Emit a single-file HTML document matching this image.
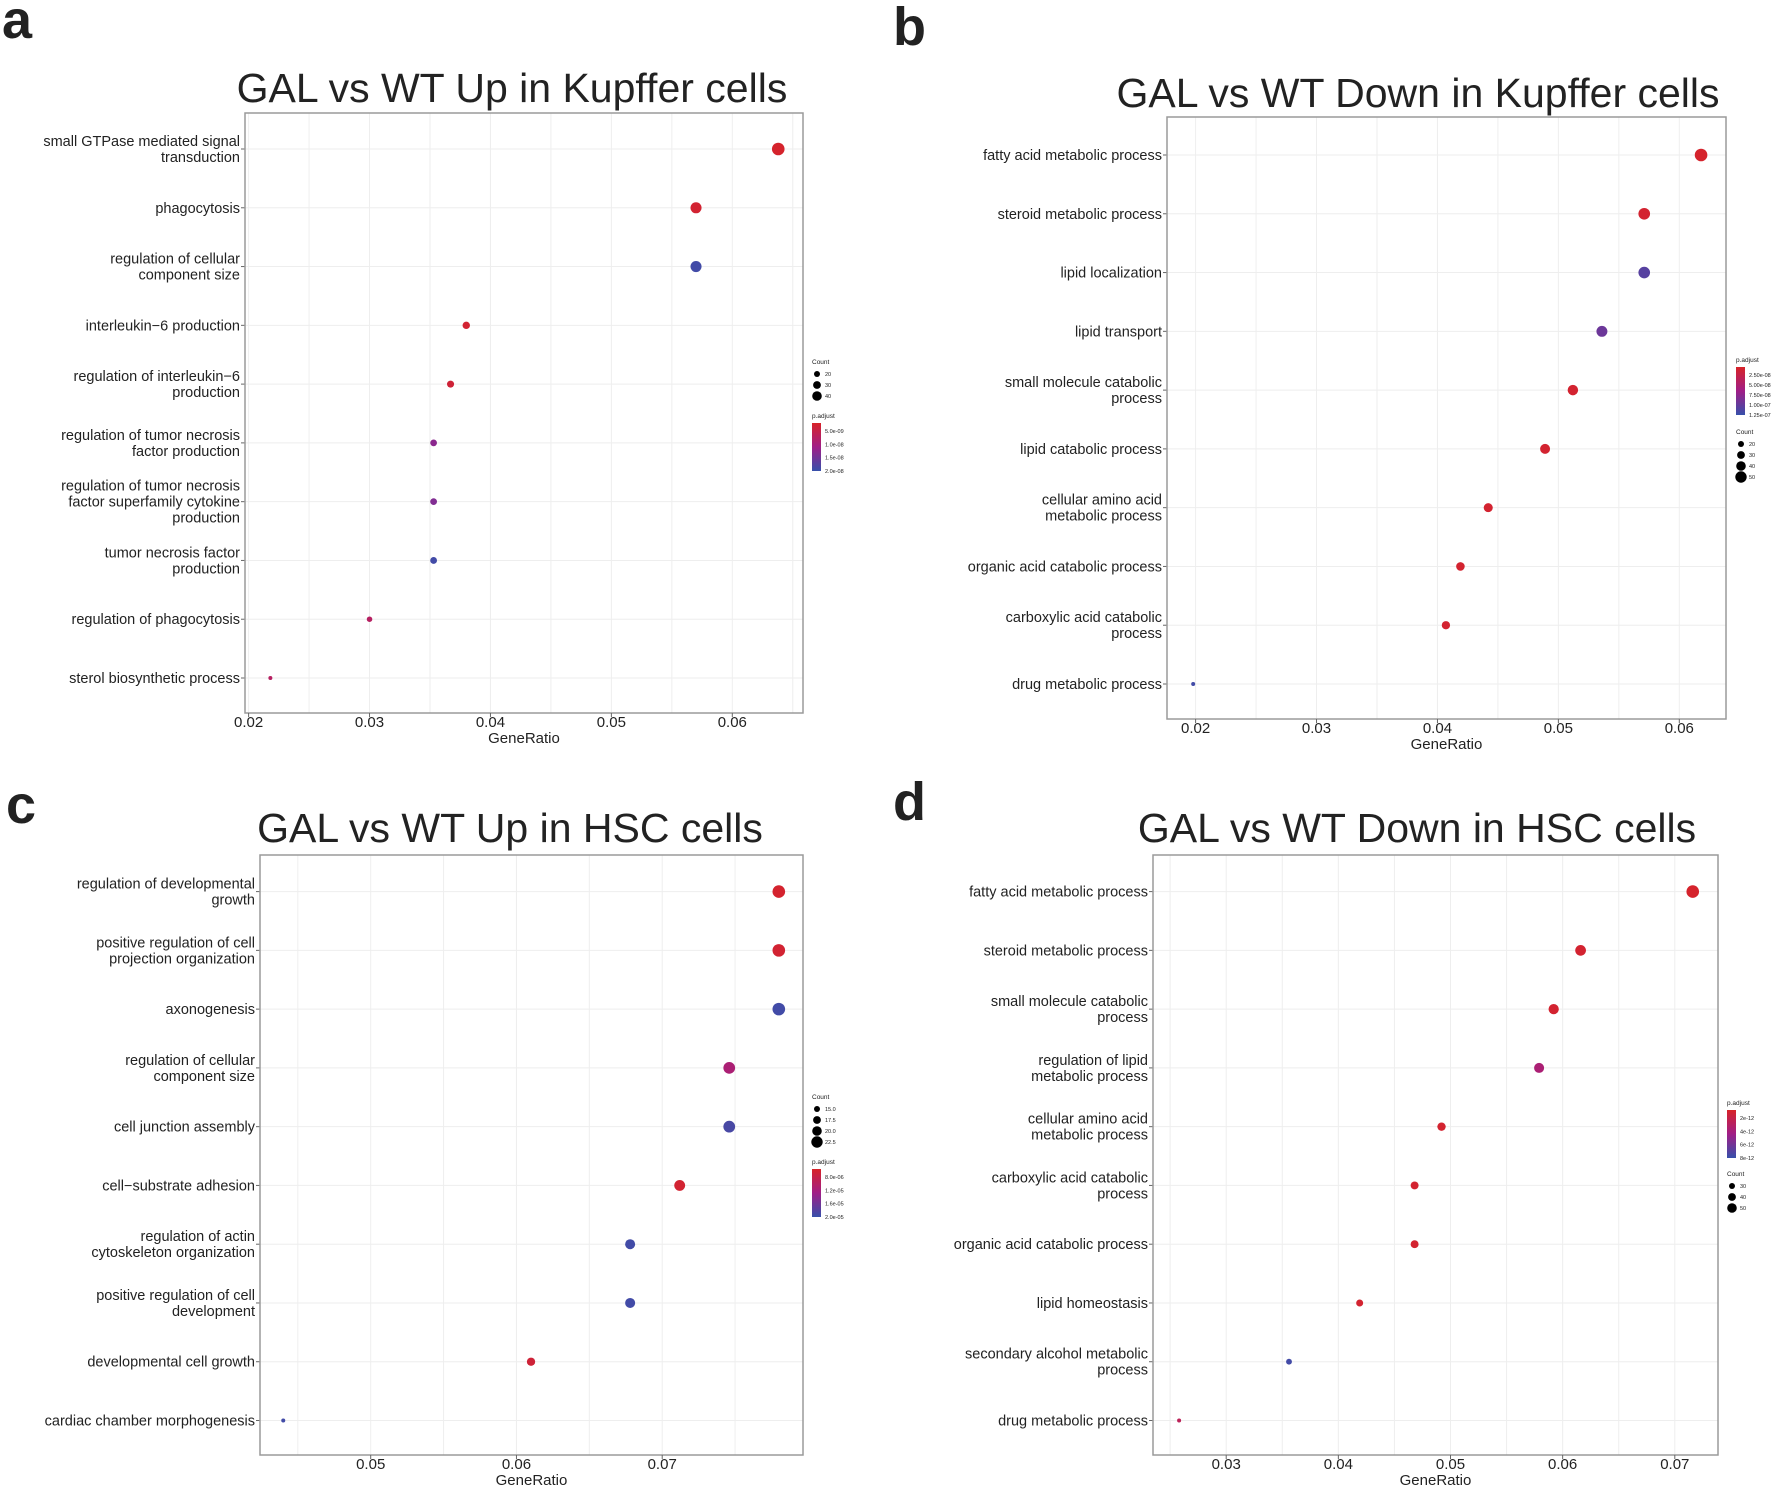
<!DOCTYPE html>
<html><head><meta charset="utf-8"><style>
html,body{margin:0;padding:0;background:#fff}
svg{display:block;font-family:"Liberation Sans",Arial,sans-serif}
</style></head><body>
<svg id="fig" width="1772" height="1487" viewBox="0 0 1772 1487" xmlns="http://www.w3.org/2000/svg"></svg>
<script>
// Panel a data
const aCategories=["small GTPase mediated signal\ntransduction","phagocytosis","regulation of cellular\ncomponent size","interleukin\u22126 production","regulation of interleukin\u22126\nproduction","regulation of tumor necrosis\nfactor production","regulation of tumor necrosis\nfactor superfamily cytokine\nproduction","tumor necrosis factor\nproduction","regulation of phagocytosis","sterol biosynthetic process"];
const aRatio=[0.0638,0.057,0.057,0.038,0.0367,0.0353,0.0353,0.0353,0.030,0.0218];
const aCount=[42,37,37,25,24,23,23,23,19,14];
const aPadj=[0.02,0.05,0.95,0.05,0.08,0.6,0.65,0.95,0.3,0.3];
const aTicks=[0.02,0.03,0.04,0.05,0.06];
// Panel b data
const bCategories=["fatty acid metabolic process","steroid metabolic process","lipid localization","lipid transport","small molecule catabolic\nprocess","lipid catabolic process","cellular amino acid\nmetabolic process","organic acid catabolic process","carboxylic acid catabolic\nprocess","drug metabolic process"];
const bRatio=[0.0618,0.0571,0.0571,0.0536,0.0512,0.0489,0.0442,0.0419,0.0407,0.0198];
const bCount=[53,49,49,46,44,42,38,36,35,17];
const bPadj=[0.02,0.04,0.85,0.75,0.04,0.04,0.04,0.04,0.04,0.95];
const bTicks=[0.02,0.03,0.04,0.05,0.06];
// Panel c data
const cCategories=["regulation of developmental\ngrowth","positive regulation of cell\nprojection organization","axonogenesis","regulation of cellular\ncomponent size","cell junction assembly","cell\u2212substrate adhesion","regulation of actin\ncytoskeleton organization","positive regulation of cell\ndevelopment","developmental cell growth","cardiac chamber morphogenesis"];
const cRatio=[0.078,0.078,0.078,0.0746,0.0746,0.0712,0.0678,0.0678,0.061,0.044];
const cCount=[23,23,23,22,22,21,20,20,18,13];
const cPadj=[0.03,0.05,0.95,0.4,0.92,0.05,0.95,0.95,0.08,0.95];
const cTicks=[0.05,0.06,0.07];
// Panel d data
const dCategories=["fatty acid metabolic process","steroid metabolic process","small molecule catabolic\nprocess","regulation of lipid\nmetabolic process","cellular amino acid\nmetabolic process","carboxylic acid catabolic\nprocess","organic acid catabolic process","lipid homeostasis","secondary alcohol metabolic\nprocess","drug metabolic process"];
const dRatio=[0.0716,0.0616,0.0592,0.0579,0.0492,0.0468,0.0468,0.0419,0.0356,0.0258];
const dCount=[58,50,48,47,40,38,38,34,29,21];
const dPadj=[0.02,0.04,0.04,0.4,0.04,0.04,0.04,0.04,0.95,0.25];
const dTicks=[0.03,0.04,0.05,0.06,0.07];

const NS="http://www.w3.org/2000/svg";
const svg=document.getElementById('fig');
function mk(tag,attrs,parent){const e=document.createElementNS(NS,tag);for(const k in attrs)e.setAttribute(k,attrs[k]);(parent||svg).appendChild(e);return e;}
function lerp(a,b,t){return a.map((v,i)=>Math.round(v+(b[i]-v)*t));}
function col(t){const R=[215,35,40],M=[160,30,135],B=[55,80,170];const c=t<0.5?lerp(R,M,t*2):lerp(M,B,(t-0.5)*2);return `rgb(${c[0]},${c[1]},${c[2]})`;}

function panel(cfg){
  const g=mk('g',{});
  
  
  const L=mk('text',{x:cfg.letter[0],y:cfg.letter[1],'font-size':54,'font-weight':'bold',fill:'#222'},g);
  L.textContent=cfg.id.slice(-1);
  
  
  const T=mk('text',{x:cfg.title[0],y:cfg.title[1],'font-size':41,'text-anchor':'middle',fill:'#222'},g);
  T.textContent=cfg.titleText;
  
  
  const [x0,x1,y0,y1]=cfg.box;
  const xs=v=>cfg.xa[0]+(v-cfg.xa[1])*(cfg.xa[2]-cfg.xa[0])/(cfg.xa[3]-cfg.xa[1]);
  const n=cfg.cats.length;
  const ys=i=>cfg.ya[0]+i*(cfg.ya[1]-cfg.ya[0])/(n-1);
  const step=cfg.ticks[1]-cfg.ticks[0];
  for(let v=cfg.ticks[0]-step/2;v<=cfg.ticks[cfg.ticks.length-1]+step;v+=step/2){
    const x=xs(v); if(x<=x0||x>=x1) continue;
    const gl=mk('line',{x1:x,x2:x,y1:y0,y2:y1,stroke:'#eee','stroke-width':1},g);
    
    
  }
  cfg.cats.forEach((c,i)=>{
    const y=ys(i);
    const gl=mk('line',{x1:x0,x2:x1,y1:y,y2:y,stroke:'#eee','stroke-width':1},g);
    
    
    const lines=c.split('\n');
    const t=mk('text',{x:x0-5,y:y+5-(lines.length-1)*8,'font-size':14.5,'text-anchor':'end',fill:'#222'},g);
    lines.forEach((ln,k)=>{const s=mk('tspan',{x:x0-5,dy:k?16:0},t);s.textContent=ln;});
    
    
    mk('line',{x1:x0-4,x2:x0,y1:y,y2:y,stroke:'#666'},g);
  });
  const br=mk('rect',{x:x0,y:y0,width:x1-x0,height:y1-y0,fill:'none',stroke:'#9a9a9a','stroke-width':1.5},g);
  
  
  cfg.ticks.forEach(v=>{
    const x=xs(v);
    mk('line',{x1:x,x2:x,y1:y1,y2:y1+4,stroke:'#666'},g);
    const t=mk('text',{x:x,y:y1+14,'font-size':15,'text-anchor':'middle',fill:'#222'},g);
    t.textContent=v.toFixed(2);
    
    
  });
  const xt=mk('text',{x:(x0+x1)/2,y:y1+30,'font-size':15,'text-anchor':'middle',fill:'#222'},g);
  xt.textContent='GeneRatio';
  
  
  const cmin=Math.min(...cfg.count),cmax=Math.max(...cfg.count);
  const rs=c=>2+(c-cmin)/(cmax-cmin)*4.3;
  cfg.ratio.forEach((v,i)=>{
    const d=mk('circle',{cx:xs(v),cy:ys(i),r:rs(cfg.count[i]),fill:col(cfg.padj[i])},g);
    
    
  });
  const lx=cfg.legX;
  function countLeg(yy){
    const t=mk('text',{x:lx,y:yy,'font-size':6.5,fill:'#222'},g);t.textContent='Count';
    
    
    cfg.legCounts.forEach((lab,k)=>{
      const cy=yy+10+k*11;
      const c=mk('circle',{cx:lx+5,cy:cy,r:3+k*0.9,fill:'#000'},g);
      
      
      const tt=mk('text',{x:lx+13,y:cy+2,'font-size':5.5,fill:'#222'},g);tt.textContent=lab;
    });
  }
  function padjLeg(yy){
    const t=mk('text',{x:lx,y:yy,'font-size':6.5,fill:'#222'},g);t.textContent='p.adjust';
    
    
    const gid=cfg.id+'grad';
    const gr=mk('linearGradient',{id:gid,x1:0,y1:0,x2:0,y2:1},g);
    mk('stop',{offset:0,'stop-color':col(0)},gr);mk('stop',{offset:0.5,'stop-color':col(0.5)},gr);mk('stop',{offset:1,'stop-color':col(1)},gr);
    const r=mk('rect',{x:lx,y:yy+5,width:9,height:48,fill:`url(#${gid})`},g);
    
    
    cfg.legPadj.forEach((lab,k)=>{
      const ty=yy+13+k*(40/(cfg.legPadj.length-1||1));
      const tt=mk('text',{x:lx+13,y:ty+2,'font-size':5.5,fill:'#222'},g);tt.textContent=lab;
    });
  }
  if(cfg.countFirst){countLeg(cfg.legY[0]);padjLeg(cfg.legY[1]);}else{padjLeg(cfg.legY[0]);countLeg(cfg.legY[1]);}
}
panel({id:'panel-a',letter:[2,38],title:[512,102],titleText:'GAL vs WT Up in Kupffer cells',box:[245,803,113,713],xa:[248.6,0.02,732.3,0.06],ya:[149,678],cats:aCategories,ratio:aRatio,count:aCount,padj:aPadj,ticks:aTicks,legX:812,legY:[364,418],countFirst:true,legCounts:['20','30','40'],legPadj:['5.0e-09','1.0e-08','1.5e-08','2.0e-08']});
panel({id:'panel-b',letter:[893,45],title:[1418,107],titleText:'GAL vs WT Down in Kupffer cells',box:[1167,1726,117,719],xa:[1195.6,0.02,1679.3,0.06],ya:[155,684],cats:bCategories,ratio:bRatio,count:bCount,padj:bPadj,ticks:bTicks,legX:1736,legY:[362,434],countFirst:false,legCounts:['20','30','40','50'],legPadj:['2.50e-08','5.00e-08','7.50e-08','1.00e-07','1.25e-07']});
panel({id:'panel-c',letter:[6,823],title:[510,842],titleText:'GAL vs WT Up in HSC cells',box:[260,803,855,1455],xa:[370.7,0.05,662.2,0.07],ya:[891.6,1420.5],cats:cCategories,ratio:cRatio,count:cCount,padj:cPadj,ticks:cTicks,legX:812,legY:[1099,1164],countFirst:true,legCounts:['15.0','17.5','20.0','22.5'],legPadj:['8.0e-06','1.2e-05','1.6e-05','2.0e-05']});
panel({id:'panel-d',letter:[893,820],title:[1417,842],titleText:'GAL vs WT Down in HSC cells',box:[1153,1718,855,1455],xa:[1226.2,0.03,1674.8,0.07],ya:[891.6,1420.5],cats:dCategories,ratio:dRatio,count:dCount,padj:dPadj,ticks:dTicks,legX:1727,legY:[1105,1176],countFirst:false,legCounts:['30','40','50'],legPadj:['2e-12','4e-12','6e-12','8e-12']});
</script>
</body></html>
